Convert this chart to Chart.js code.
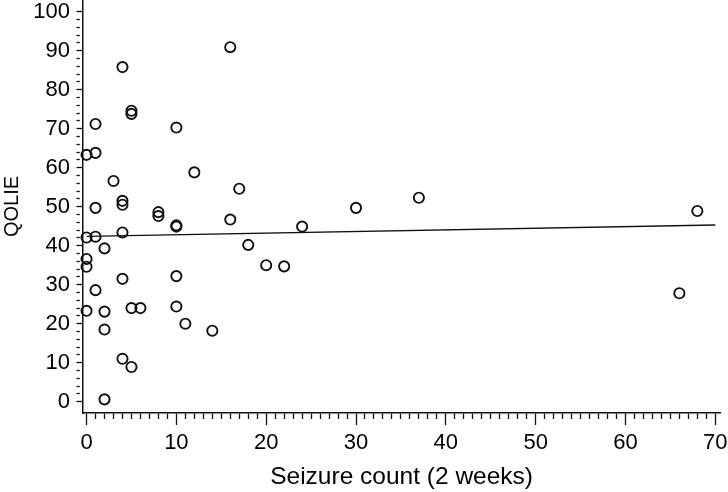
<!DOCTYPE html>
<html>
<head>
<meta charset="utf-8">
<script src="https://cdn.jsdelivr.net/npm/chart.js@4"></script>
<style>
  html, body { margin: 0; padding: 0; background: #fff; }
  #wrap { width: 728px; height: 492px; }
</style>
</head>
<body>
<div id="wrap"><canvas id="scatter"></canvas></div>
<script>
// seizure count (2 weeks) vs QOLIE score, one entry per patient
var seizures = [16, 4, 5, 5, 1, 10, 0, 1, 12, 3, 17, 4, 4, 1, 8, 8, 16, 10, 10, 4,
                0, 1, 2, 18, 0, 0, 4, 10, 1, 0, 2, 5, 6, 10, 11, 14, 2, 4, 5, 2,
                30, 37, 24, 20, 22, 68, 66];
var qolie = [90.9, 85.8, 74.6, 73.8, 71.2, 70.3, 63.3, 63.8, 58.8, 56.6, 54.6, 51.5, 50.5, 49.7, 48.6, 47.6, 46.7, 45.2, 44.9, 43.4,
             42.1, 42.3, 39.3, 40.2, 36.6, 34.6, 31.5, 32.2, 28.6, 23.3, 23.1, 24.0, 24.0, 24.4, 20.0, 18.2, 18.5, 11.0, 8.9, 0.6,
             49.7, 52.3, 44.9, 35.0, 34.7, 48.9, 27.8];

// fitted line, read at both ends
var fitX = [0, 70];
var fitY = [42.4, 45.3];

var xTicks = [];
for (var i = 0; i <= 70; i++) xTicks.push(i);
var yTicks = [];
for (var j = 0; j <= 100; j += 2) yTicks.push(j);

var points = [];
for (var k = 0; k < seizures.length; k++) {
    points.push({x: seizures[k], y: qolie[k]});
}
var fit = [];
for (var m = 0; m < fitX.length; m++) {
    fit.push({x: fitX[m], y: fitY[m]});
}

var ink = '#111';
var font = "'Liberation Sans', Arial, sans-serif";

var ctx = document.getElementById('scatter').getContext('2d');
var myChart = new Chart(ctx, {
    type: 'scatter',
    data: {
        datasets: [{
            label: 'QOLIE',
            data: points,
            pointStyle: 'circle',
            pointRadius: 5.1,
            pointHoverRadius: 5.1,
            borderWidth: 1.9,
            borderColor: ink,
            backgroundColor: 'rgba(0,0,0,0)',
            clip: false
        }, {
            type: 'line',
            label: 'fit',
            data: fit,
            borderColor: ink,
            borderWidth: 1.4,
            pointRadius: 0,
            fill: false
        }]
    },
    options: {
        responsive: true,
        maintainAspectRatio: false,
        animation: false,
        layout: { autoPadding: false, padding: { left: 0, right: 7.3, top: 0, bottom: 0 } },
        plugins: {
            legend: { display: false },
            tooltip: { enabled: false }
        },
        scales: {
            x: {
                type: 'linear',
                min: -0.45,
                max: 70.6,
                afterBuildTicks: function(scale) {
                    scale.ticks = xTicks.map(function(v) { return {value: v}; });
                },
                afterFit: function(scale) {
                    scale.height = 79;
                    scale.paddingLeft = 0;
                    scale.paddingRight = 0;
                },
                border: { display: true, color: ink, width: 1.5 },
                grid: {
                    drawOnChartArea: false,
                    drawTicks: true,
                    tickLength: 12,
                    tickColor: ink,
                    tickWidth: 1.3,
                    tickBorderDash: function(c) {
                        return (c.tick && c.tick.value % 10 === 0) ? [] : [5.5, 20];
                    }
                },
                ticks: {
                    autoSkip: false,
                    maxRotation: 0,
                    padding: 5,
                    color: '#000',
                    font: { family: font, size: 22 },
                    callback: function(v) { return v % 10 === 0 ? v : ''; }
                },
                title: {
                    display: true,
                    text: 'Seizure count (2 weeks)',
                    color: '#000',
                    font: { family: font, size: 24.5 },
                    padding: { top: 0, bottom: 0 }
                }
            },
            y: {
                type: 'linear',
                min: -2.9,
                max: 103,
                afterBuildTicks: function(scale) {
                    scale.ticks = yTicks.map(function(v) { return {value: v}; });
                },
                afterFit: function(scale) {
                    scale.width = 82.5;
                    scale.paddingTop = 0;
                    scale.paddingBottom = 0;
                },
                border: { display: true, color: ink, width: 1.5 },
                grid: {
                    drawOnChartArea: false,
                    drawTicks: true,
                    tickLength: 6,
                    tickColor: ink,
                    tickWidth: 1.3,
                    tickBorderDash: function(c) {
                        return (c.tick && c.tick.value % 10 === 0) ? [] : [3.3, 20];
                    }
                },
                ticks: {
                    autoSkip: false,
                    padding: 6.5,
                    color: '#000',
                    font: { family: font, size: 22 },
                    callback: function(v) { return v % 10 === 0 ? v : ''; }
                },
                title: {
                    display: true,
                    text: 'QOLIE',
                    color: '#000',
                    font: { family: font, size: 20 },
                    padding: { top: 0, bottom: 0 }
                }
            }
        }
    }
});
</script>
</body>
</html>
